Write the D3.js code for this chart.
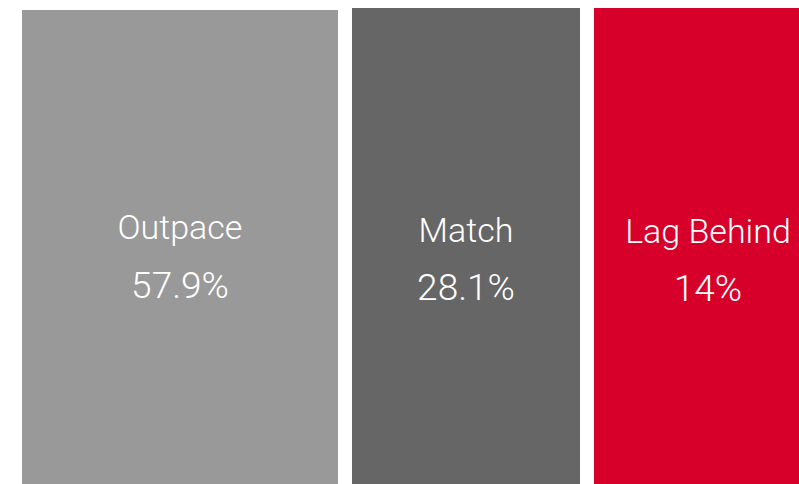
<!DOCTYPE html>
<html>
<head>
<meta charset="utf-8">
<script src="https://cdn.jsdelivr.net/npm/d3@7"></script>
<style>
  html, body { margin: 0; padding: 0; background: #fff; }
  svg { display: block; }
</style>
</head>
<body>
<div id="chart"></div>
<script>
// categories and values
var categories = ["Outpace", "Match", "Lag Behind"];
var values = ["57.9%", "28.1%", "14%"];
var spans = [79, 57, 57];       // relative column widths
var heights = [474, 476, 476];  // column heights (px units of the frame)
var colors = ["#999999", "#666666", "#d7002a"];

var width = 799, height = 484;
var left = 22, gap = 14;
var labelY = [239, 242, 243];
var valueY = [298, 300, 301];

var svg = d3.select("#chart").append("svg")
  .attr("width", width)
  .attr("height", height);

var total = d3.sum(spans);
var x = d3.scaleLinear()
  .domain([0, total])
  .range([0, 800 - gap * (spans.length - 1)]);

var y = d3.scaleLinear()
  .domain([0, 484])
  .range([height, 0]);

var data = categories.map(function(c, i) {
  var start = d3.sum(spans.slice(0, i));
  return {
    name: c,
    value: values[i],
    x0: left + x(start) + gap * i,
    w: x(spans[i]),
    h: heights[i],
    color: colors[i]
  };
});

var col = svg.selectAll(".col")
  .data(data)
  .enter().append("g")
  .attr("class", "col");

col.append("rect")
  .attr("x", function(d) { return d.x0; })
  .attr("y", function(d) { return y(d.h); })
  .attr("width", function(d) { return d.w; })
  .attr("height", function(d) { return height - y(d.h); })
  .style("fill", function(d) { return d.color; });

col.append("text")
  .attr("x", function(d) { return d.x0 + d.w / 2; })
  .attr("y", function(d, i) { return labelY[i]; })
  .attr("text-anchor", "middle")
  .style("font-family", "Roboto, sans-serif")
  .style("font-weight", 300)
  .style("font-size", "34px")
  .style("fill", "#fff")
  .text(function(d) { return d.name; });

col.append("text")
  .attr("x", function(d) { return d.x0 + d.w / 2; })
  .attr("y", function(d, i) { return valueY[i]; })
  .attr("text-anchor", "middle")
  .style("font-family", "Roboto, sans-serif")
  .style("font-weight", 300)
  .style("font-size", "37px")
  .style("fill", "#fff")
  .text(function(d) { return d.value; });
</script>
</body>
</html>
